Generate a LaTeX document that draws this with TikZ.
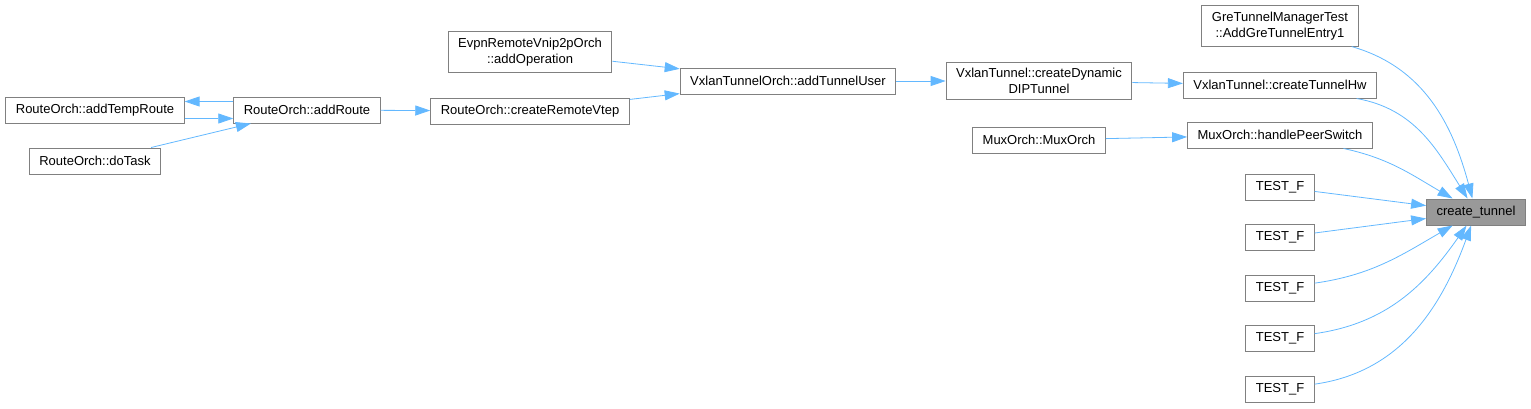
\documentclass[tikz,border=0pt]{standalone}
\usepackage{fontspec}
\setmainfont{Liberation Sans}
\usepackage{tikz}
\usetikzlibrary{arrows.meta}
\definecolor{callblue}{HTML}{63B8FF}
\definecolor{boxgrey}{HTML}{808080}
\definecolor{rootgrey}{HTML}{999999}
\tikzset{fn/.style={draw=boxgrey,line width=1pt,fill=white,font=\fontsize{13}{16}\selectfont,align=center,inner xsep=10pt,inner ysep=6pt,minimum height=26pt}}
\tikzset{root/.style={fn,fill=rootgrey}}
\tikzset{call/.style={draw=callblue,line width=0.8pt,-{Triangle[length=15pt,width=10pt]}}}

\begin{document}
\begin{tikzpicture}[x=1pt,y=1pt,node distance=50.5pt]
          \useasboundingbox (0,0) rectangle (1531,-408);
          \node[root] (ct) at (1476,-212) {create\_tunnel};
          \node[fn] (t1) at (1280,-187) {TEST\_F} edge[call] (ct);
          \node[fn] (t2) [below of=t1] {TEST\_F} edge[call] (ct);
          \node[fn] (t3) [below of=t2] {TEST\_F} edge[call,out=8,in=-150] (ct);
          \node[fn] (t4) [below of=t3] {TEST\_F} edge[call,out=8,in=-125] (ct);
          \node[fn] (t5) [below of=t4] {TEST\_F} edge[call,out=8,in=-110] (ct);
          \node[fn] (hps) at (1280,-135) {MuxOrch::handlePeerSwitch} edge[call,out=-12,in=150] (ct);
          \node[fn] (cthw) at (1280,-85) {VxlanTunnel::createTunnelHw} edge[call,out=-10,in=122] (ct);
          \node[fn] (gre) at (1280,-26) {GreTunnelManagerTest\\::AddGreTunnelEntry1} edge[call,out=-16,in=105] (ct);
          \node[fn] (mux) at (1039,-140) {MuxOrch::MuxOrch} edge[call] (hps);
          \node[fn] (dip) at (1039,-81) {VxlanTunnel::createDynamic\\DIPTunnel} edge[call] (cthw);
          \node[fn] (atu) at (788,-81) {VxlanTunnelOrch::addTunnelUser} edge[call] (dip);
          \node[fn] (evpn) at (530,-52) {EvpnRemoteVnip2pOrch\\::addOperation} edge[call] (atu);
          \node[fn] (crv) at (530,-111) {RouteOrch::createRemoteVtep} edge[call] (atu);
          \node[fn] (ar) at (307,-110) {RouteOrch::addRoute} edge[call] (crv);
          \node[fn] (atr) at (95,-110) {RouteOrch::addTempRoute};
          \node[fn] (dt) at (95,-161) {RouteOrch::doTask} edge[call] (ar);
          % addRoute and addTempRoute call each other
          \draw[call] ([yshift=8.5pt]ar.west) -- ([yshift=8.5pt]atr.east);
          \draw[call] ([yshift=-8.5pt]atr.east) -- ([yshift=-8.5pt]ar.west);
\end{tikzpicture}
\end{document}
